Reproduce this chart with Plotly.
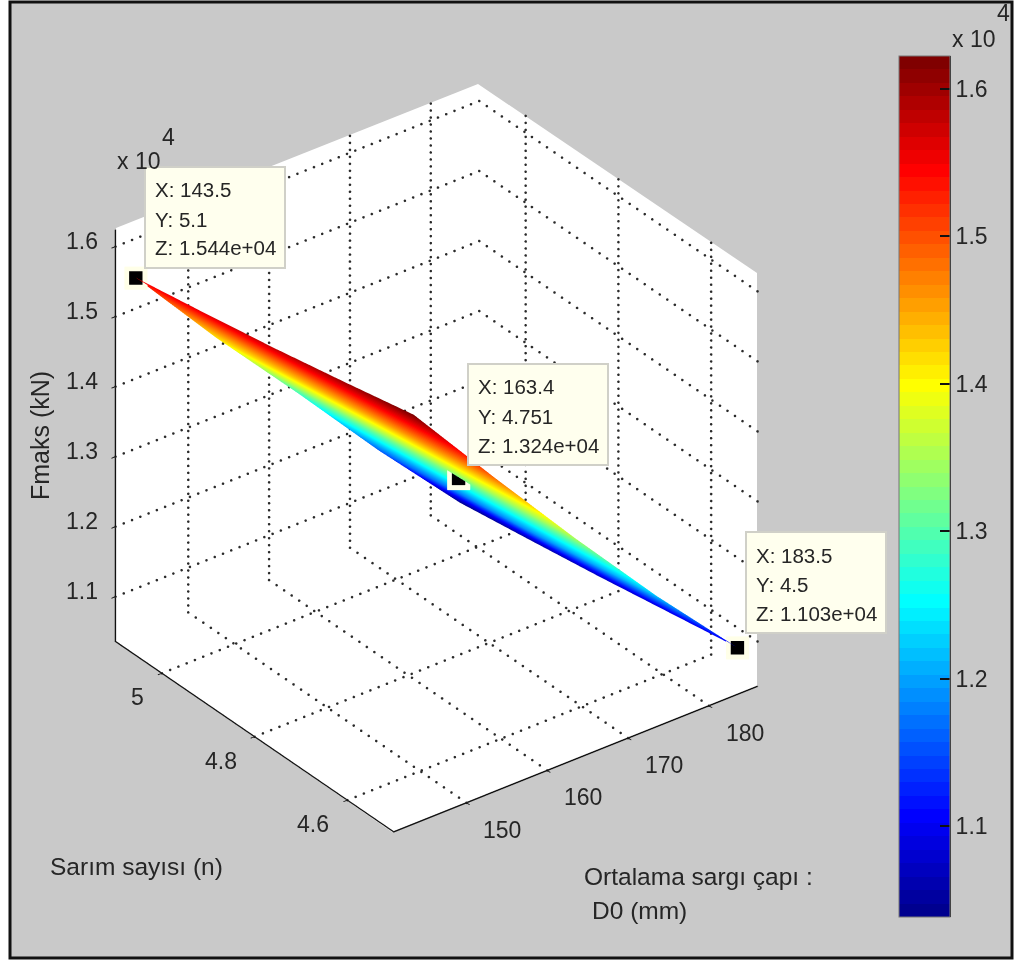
import plotly.graph_objects as go

W, H = 1018, 963
d0_values = [143.5, 153.5, 163.5, 173.5, 183.5]
n_values = [4.5, 4.65, 4.8, 4.95, 5.1]
# rows follow n_values, columns follow d0_values
fmax_rows = [
    [16200, 14840, 13510, 12230, 11030],
    [15990, 14650, 13345, 12050, 10860],
    [15790, 14470, 13190, 11885, 10690],
    [15610, 14290, 13030, 11740, 10535],
    [15440, 14115, 12870, 11590, 10385],
]
tip_x = [143.5, 163.4, 183.5]
tip_y = [5.1, 4.751, 4.5]
tip_z = [15440, 13240, 11030]
x_ticks = [150, 160, 170, 180]
y_ticks = [4.6, 4.8, 5.0]
y_labels = ["4.6", "4.8", "5"]
z_ticks = [11000, 12000, 13000, 14000, 15000, 16000]
z_labels = ["1.1", "1.2", "1.3", "1.4", "1.5", "1.6"]
x_range = [141, 186]
y_range = [4.5, 5.1]
z_range = [10360, 16240]
c_range = [10383, 16224]

FONT = "Liberation Sans"
TXT = "#262626"

def jet(n=64):
    out = []
    cl = lambda v: max(0.0, min(1.0, v))
    for i in range(n):
        t = (i + 1) / n
        r = cl(min(4*t-1.5, -4*t+4.5)); g = cl(min(4*t-0.5, -4*t+3.5)); b = cl(min(4*t+0.5, -4*t+2.5))
        c = f"rgb({round(r*255)},{round(g*255)},{round(b*255)})"
        out += [[i/n, c], [(i+1)/n, c]]
    return out

def px(v): return v / W
def py(v): return 1 - v / H

gx, gy, gz = [], [], []
def dots(a, b, n):
    for i in range(n + 1):
        f = i / n
        gx.append(a[0] + (b[0]-a[0])*f); gy.append(a[1] + (b[1]-a[1])*f); gz.append(a[2] + (b[2]-a[2])*f)
for v in x_ticks:
    dots((v, y_range[0], z_range[0]), (v, y_range[1], z_range[0]), 37)
    dots((v, y_range[1], z_range[0]), (v, y_range[1], z_range[1]), 59)
for v in y_ticks:
    dots((x_range[0], v, z_range[0]), (x_range[1], v, z_range[0]), 44)
    dots((x_range[1], v, z_range[0]), (x_range[1], v, z_range[1]), 59)
for v in z_ticks:
    dots((x_range[0], y_range[1], v), (x_range[1], y_range[1], v), 44)
    dots((x_range[1], y_range[0], v), (x_range[1], y_range[1], v), 37)

fig = go.Figure()
fig.add_trace(go.Scatter3d(x=gx, y=gy, z=gz, mode="markers", hoverinfo="skip", showlegend=False,
                           marker=dict(color="#2a2a2a", size=1.5, symbol="circle", line=dict(width=0))))
# heavier box edges carrying the three axes
fig.add_trace(go.Scatter3d(x=[x_range[1], x_range[0], x_range[0], None, x_range[0], x_range[0]],
                           y=[y_range[0], y_range[0], y_range[1], None, y_range[1], y_range[1]],
                           z=[z_range[0], z_range[0], z_range[0], None, z_range[0], z_range[1]],
                           mode="lines", hoverinfo="skip", showlegend=False,
                           line=dict(color="#111111", width=2.5)))
fig.add_trace(go.Surface(x=d0_values, y=n_values, z=fmax_rows, colorscale=jet(), cmin=c_range[0], cmax=c_range[1],
                         lighting=dict(ambient=1, diffuse=0, specular=0, roughness=1, fresnel=0),
                         hoverinfo="skip",
                         colorbar=dict(x=px(899), xanchor="left", xpad=0, ypad=0, y=py(917), yanchor="bottom",
                                       len=861/H, lenmode="fraction", thickness=51, thicknessmode="pixels",
                                       tickvals=z_ticks, ticktext=z_labels, ticks="inside", ticklen=10,
                                       tickcolor="#111111", tickwidth=2,
                                       outlinecolor="#777777", outlinewidth=1,
                                       tickfont=dict(family=FONT, size=23, color=TXT))))
fig.add_trace(go.Scatter3d(x=tip_x, y=tip_y, z=tip_z, mode="markers", hoverinfo="skip", showlegend=False,
                           marker=dict(symbol="square", size=12, color="#ffffe8", line=dict(width=0))))
fig.add_trace(go.Scatter3d(x=tip_x, y=tip_y, z=tip_z, mode="markers", hoverinfo="skip", showlegend=False,
                           marker=dict(symbol="square", size=7, color="black", line=dict(width=0))))

def axis(rng, tv):
    return dict(range=rng, tickvals=tv, showticklabels=False, title=dict(text=""), showgrid=False, zeroline=False,
                showbackground=False, showline=True, linecolor="#111111", linewidth=3,
                ticks="outside", ticklen=5, tickcolor="#111111", tickwidth=2, showspikes=False)

def scene_text(x, y, z, t, dx, dy, anchor):
    return dict(x=x, y=y, z=z, text=t, showarrow=False, xshift=dx, yshift=dy, xanchor=anchor, yanchor="middle",
                font=dict(family=FONT, size=23, color=TXT))

scene_ann = []
for v in x_ticks:
    scene_ann.append(scene_text(v, y_range[0], z_range[0], str(v), 36, -27, "center"))
for v, t in zip(y_ticks, y_labels):
    scene_ann.append(scene_text(x_range[0], v, z_range[0], t, -16, -24, "right"))
for v, t in zip(z_ticks, z_labels):
    scene_ann.append(scene_text(x_range[0], y_range[1] - 0.001, v, t, -34, 6, "center"))

k = 1.527
sh = 916
sw = 873
cx, cy = 436.5, 458
fig.update_layout(
    width=W, height=H, margin=dict(l=0, r=0, t=0, b=0), paper_bgcolor="white", showlegend=False,
    scene=dict(
        domain=dict(x=[px(cx-sw/2), px(cx+sw/2)], y=[py(cy+sh/2), py(cy-sh/2)]),
        xaxis=axis(x_range, x_ticks),
        yaxis=axis(y_range, y_ticks),
        zaxis=axis(z_range, z_ticks),
        aspectmode="manual", aspectratio=dict(x=1, y=1, z=1.055),
        camera=dict(projection=dict(type="orthographic"), up=dict(x=0, y=0, z=1), center=dict(x=0, y=0, z=0),
                    eye=dict(x=-0.5177*k, y=-0.6769*k, z=0.5233*k)),
        annotations=scene_ann,
    ),
)

shapes = [dict(type="rect", xref="paper", yref="paper", x0=px(10), x1=px(1012), y0=py(958), y1=py(2),
               fillcolor="#c9c9c9", line=dict(color="#111111", width=3), layer="below")]
# white walls and floor of the 3D box
wall = [(116, 228), (478, 84), (757, 273), (757, 686), (392, 832), (116, 641)]
path = "M " + " L ".join(f"{px(a)} {py(b)}" for a, b in wall) + " Z"
shapes.append(dict(type="path", xref="paper", yref="paper", path=path, fillcolor="white",
                   line=dict(width=0), layer="below"))
ann = []
def text(x, y, t, size=20, anchor="left", angle=0):
    ann.append(dict(xref="paper", yref="paper", x=px(x), y=py(y), text=t, showarrow=False, xanchor=anchor,
                    yanchor="middle", textangle=angle, font=dict(family=FONT, size=size, color=TXT)))

tips = [(145, 167, ["X: 143.5", "Y: 5.1", "Z: 1.544e+04"]),
        (468, 364, ["X: 163.4", "Y: 4.751", "Z: 1.324e+04"]),
        (746, 532, ["X: 183.5", "Y: 4.5", "Z: 1.103e+04"])]
for bx, by, lines in tips:
    shapes.append(dict(type="rect", xref="paper", yref="paper", x0=px(bx), x1=px(bx+140), y0=py(by+101), y1=py(by),
                       fillcolor="#ffffee", line=dict(color="#d0d0c8", width=2), layer="above"))
    for i, l in enumerate(lines):
        text(bx+8, by+23+29*i, l, size=20.5)

for v in z_ticks:
    f = (v - c_range[0]) / (c_range[1] - c_range[0])
    yy = 917 - 861 * f
    shapes.append(dict(type="line", xref="paper", yref="paper", x0=px(899), x1=px(909), y0=py(yy), y1=py(yy),
                       line=dict(color="#111111", width=2), layer="above"))
shapes.append(dict(type="line", xref="paper", yref="paper", x0=px(950), x1=px(950), y0=py(917), y1=py(56),
                   line=dict(color="#111111", width=2), layer="above"))

text(950, 39, "x 10", 23)
text(995, 13, "4", 23)
text(115, 161, "x 10", 23)
text(160, 137, "4", 23)
text(40, 436, "Fmaks (kN)", 25, "center", -90)
text(48, 866, "Sarım sayısı (n)", 24.5)
text(582, 876, "Ortalama sargı çapı :", 24.5)
text(590, 910, "D0 (mm)", 24.5)
fig.update_layout(shapes=shapes, annotations=ann)
fig.write_html("out.html", config=dict(displayModeBar=False),
               post_script="document.body.style.margin='0';")
